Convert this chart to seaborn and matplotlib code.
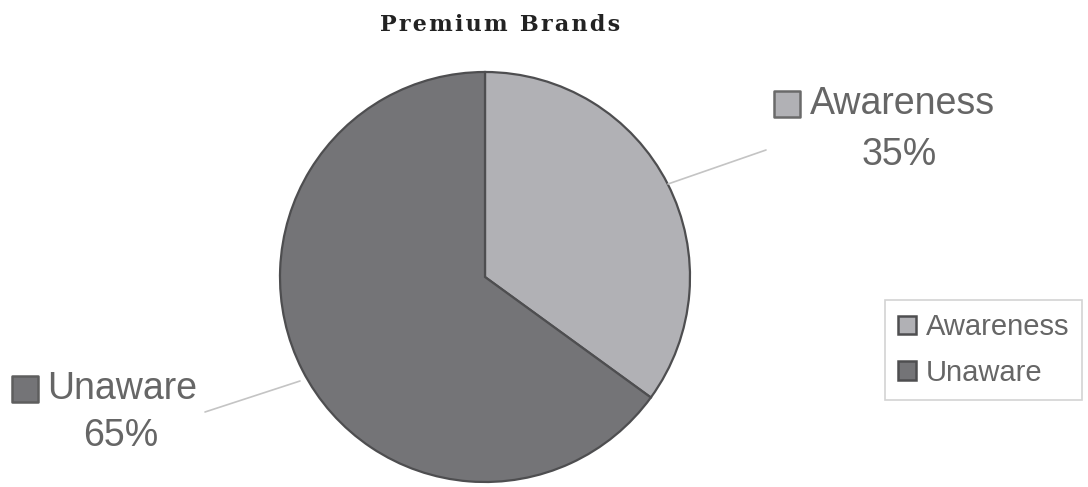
import matplotlib
matplotlib.use("Agg")
import matplotlib.pyplot as plt
import seaborn as sns

sns.set_theme(style="white")

categories = ["Awareness", "Unaware"]
shares = [35, 65]
colors = ["#b1b1b5", "#747477"]

W, H = 1088, 487
fig = plt.figure(figsize=(W / 100, H / 100), dpi=100)
ax = fig.add_axes([0, 0, 1, 1])

# pie laid out in pixel-like data units (y measured upward)
cx, cy, r = 485, H - 277, 205
wedges, _ = ax.pie(
    shares,
    colors=colors,
    startangle=90,
    counterclock=False,
    center=(cx, cy),
    radius=r,
    wedgeprops=dict(edgecolor="#4e4e50", linewidth=1.6),
    frame=True,
)
ax.set_xlim(0, W)
ax.set_ylim(0, H)
ax.set_aspect("equal")
ax.axis("off")

label_font = dict(family="Liberation Sans", color="#666666", fontsize=27)
leader = dict(color="#c4c4c4", lw=1.2)

# Awareness callout
ax.plot([668, 766], [H - 184, H - 150], **leader)
ax.scatter([787], [H - 104], marker="s", s=360, color=colors[0],
           edgecolor="#6a6a6a", linewidth=1.8, zorder=5)
ax.text(810, H - 104, categories[0], va="center", ha="left", **label_font)
ax.text(899, H - 155, f"{shares[0]}%", va="center", ha="center", **label_font)

# Unaware callout
ax.plot([300, 205], [H - 381, H - 412], **leader)
ax.scatter([25], [H - 389], marker="s", s=360, color=colors[1],
           edgecolor="#5e5e5e", linewidth=1.8, zorder=5)
ax.text(47, H - 389, categories[1], va="center", ha="left", **label_font)
ax.text(121, H - 436, f"{shares[1]}%", va="center", ha="center", **label_font)

leg = ax.legend(
    wedges, categories,
    loc="upper left", bbox_to_anchor=(885 / W, (H - 300) / H),
    bbox_transform=fig.transFigure,
    frameon=True, fancybox=False, edgecolor="#c8c8c8",
    prop=dict(family="Liberation Sans", size=21),
    handlelength=0.6, handleheight=0.6, handletextpad=0.35,
    labelspacing=0.6, borderpad=0.45, borderaxespad=0,
)
leg.get_frame().set_linewidth(1.2)
for t in leg.get_texts():
    t.set_color("#666666")
for h in leg.legend_handles:
    h.set_edgecolor("#4e4e50")
    h.set_linewidth(1.8)

title = "\u200a".join("Premium Brands")
fig.text(500 / W, 1 - 25 / H, title, ha="center", va="center",
         fontsize=16, fontweight="bold", family="DejaVu Serif", color="#222222")

fig.savefig("out.png", dpi=100, facecolor="white")
